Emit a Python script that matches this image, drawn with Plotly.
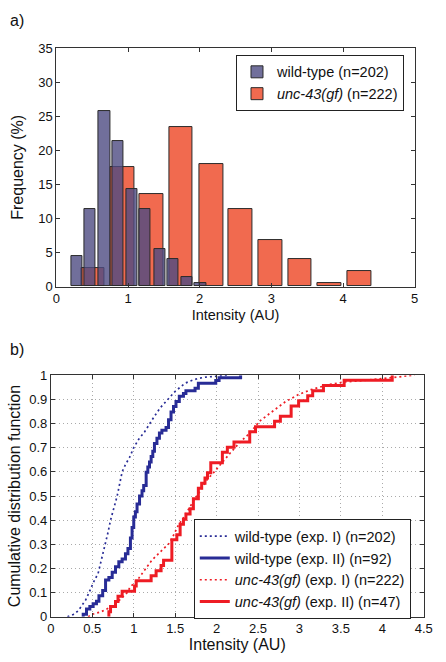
import plotly.graph_objects as go

# ---------------- data: histogram (panel a) ----------------
wt_centers = [0.28, 0.47, 0.67, 0.86, 1.05, 1.24, 1.44, 1.63, 1.82, 2.01]
wt_freq = [4.5, 11.4, 25.7, 21.3, 14.3, 11.4, 5.5, 4.0, 1.4, 0.5]
gf_centers = [0.51, 0.92, 1.33, 1.74, 2.16, 2.57, 2.99, 3.40, 3.81, 4.23]
gf_freq = [2.7, 17.6, 13.5, 23.4, 18.0, 11.3, 6.8, 4.1, 0.5, 2.3]

# ---------------- data: CDFs (panel b) ----------------
wt1_x = [0.20, 0.27, 0.33, 0.37, 0.42, 0.46, 0.51, 0.57, 0.60, 0.63, 0.66, 0.69,
         0.72, 0.76, 0.80, 0.83, 0.86, 0.90, 0.95, 1.00, 1.06, 1.13, 1.19, 1.25,
         1.32, 1.39, 1.45, 1.50, 1.56, 1.62, 1.70, 1.78, 1.87, 1.95, 2.05, 2.13]
wt1_y = [0.0, 0.01, 0.025, 0.045, 0.07, 0.10, 0.14, 0.18, 0.22, 0.26, 0.30, 0.35,
         0.40, 0.45, 0.50, 0.55, 0.60, 0.63, 0.66, 0.70, 0.735, 0.765, 0.80, 0.83,
         0.865, 0.893, 0.915, 0.933, 0.95, 0.967, 0.978, 0.987, 0.992, 0.995, 0.998, 1.0]

wt2_x = [0.39, 0.39, 0.43, 0.47, 0.51, 0.55, 0.58, 0.625, 0.66, 0.70, 0.74, 0.78,
         0.82, 0.86, 0.90, 0.93, 0.96, 0.98, 1.00, 1.02, 1.04, 1.07, 1.10, 1.12,
         1.15, 1.17, 1.19, 1.21, 1.23, 1.25, 1.28, 1.31, 1.34, 1.39, 1.42, 1.45,
         1.48, 1.51, 1.55, 1.60, 1.63, 1.74, 1.78, 1.99, 2.03, 2.29]
wt2_y = [0.0, 0.011, 0.033, 0.043, 0.054, 0.065, 0.087, 0.109, 0.152, 0.163, 0.185, 0.207,
         0.228, 0.239, 0.261, 0.283, 0.326, 0.370, 0.413, 0.435, 0.467, 0.500, 0.522, 0.543,
         0.598, 0.620, 0.641, 0.663, 0.685, 0.717, 0.739, 0.761, 0.772, 0.783, 0.815, 0.848,
         0.870, 0.891, 0.913, 0.924, 0.935, 0.946, 0.967, 0.978, 0.989, 1.0]

gf1_x = [0.45, 0.49, 0.60, 0.72, 0.80, 0.86, 0.92, 0.96, 1.01, 1.06, 1.10, 1.15,
         1.22, 1.31, 1.38, 1.43, 1.47, 1.54, 1.60, 1.66, 1.74, 1.82, 1.89, 1.96,
         2.02, 2.09, 2.17, 2.29, 2.40, 2.52, 2.68, 2.83, 2.99, 3.14, 3.34, 3.54,
         3.75, 3.93, 4.12, 4.25, 4.39]
gf1_y = [0.0, 0.01, 0.02, 0.04, 0.06, 0.08, 0.10, 0.125, 0.14, 0.16, 0.18, 0.205,
         0.235, 0.265, 0.29, 0.305, 0.33, 0.38, 0.41, 0.445, 0.49, 0.53, 0.57, 0.595,
         0.62, 0.65, 0.68, 0.725, 0.76, 0.81, 0.85, 0.89, 0.92, 0.94, 0.96, 0.972,
         0.977, 0.982, 0.99, 0.995, 1.0]

gf2_x = [0.70, 0.70, 0.72, 0.78, 0.81, 0.86, 1.01, 1.03, 1.21, 1.27, 1.33, 1.36,
         1.46, 1.52, 1.56, 1.60, 1.63, 1.68, 1.72, 1.78, 1.82, 1.86, 1.89, 1.93,
         2.07, 2.13, 2.21, 2.40, 2.47, 2.70, 2.77, 2.90, 2.99, 3.10, 3.16, 3.29,
         3.54, 4.12]
gf2_y = [0.0, 0.021, 0.043, 0.064, 0.085, 0.106, 0.128, 0.149, 0.170, 0.191, 0.213, 0.234,
         0.319, 0.340, 0.383, 0.404, 0.426, 0.447, 0.489, 0.532, 0.553, 0.574, 0.596, 0.638,
         0.681, 0.702, 0.723, 0.766, 0.787, 0.809, 0.830, 0.872, 0.894, 0.915, 0.936, 0.957,
         0.979, 1.0]

FONT = "Liberation Sans, Arial, sans-serif"
BLUE = "rgb(40,44,150)"
RED = "rgb(238,28,36)"

fig = go.Figure()

# panel a
fig.add_trace(go.Bar(x=gf_centers, y=gf_freq, width=0.33, name="<i>unc-43(gf)</i> (n=222)",
                     marker=dict(color="rgb(241,106,79)", line=dict(color="#2a2a2a", width=1)),
                     xaxis="x", yaxis="y", legend="legend", legendrank=2))
fig.add_trace(go.Bar(x=wt_centers, y=wt_freq, width=0.155, name="wild-type (n=202)",
                     marker=dict(color="rgba(78,75,130,0.8)", line=dict(color="#2a2a2a", width=1)),
                     xaxis="x", yaxis="y", legend="legend", legendrank=1))

# panel b
fig.add_trace(go.Scatter(x=wt1_x, y=wt1_y, mode="lines", name="wild-type (exp. I) (n=202)",
                         line=dict(color=BLUE, width=1.7, dash="2px,3px"),
                         xaxis="x2", yaxis="y2", legend="legend2"))
fig.add_trace(go.Scatter(x=wt2_x, y=wt2_y, mode="lines", name="wild-type (exp. II) (n=92)",
                         line=dict(color=BLUE, width=3, shape="hv"),
                         xaxis="x2", yaxis="y2", legend="legend2"))
fig.add_trace(go.Scatter(x=gf1_x, y=gf1_y, mode="lines", name="<i>unc-43(gf)</i> (exp. I) (n=222)",
                         line=dict(color=RED, width=1.7, dash="2px,3px"),
                         xaxis="x2", yaxis="y2", legend="legend2"))
fig.add_trace(go.Scatter(x=gf2_x, y=gf2_y, mode="lines", name="<i>unc-43(gf)</i> (exp. II) (n=47)",
                         line=dict(color=RED, width=3, shape="hv"),
                         xaxis="x2", yaxis="y2", legend="legend2"))

W, H = 446, 662
axis_common = dict(showline=True, linecolor="#333", linewidth=1, mirror="ticks",
                   ticks="inside", ticklen=4, tickcolor="#333", zeroline=False,
                   tickfont=dict(family=FONT, size=13, color="#111"))

fig.update_layout(
    width=W, height=H, margin=dict(l=0, r=0, t=0, b=0),
    paper_bgcolor="white", plot_bgcolor="white",
    barmode="overlay", bargap=0,
    font=dict(family=FONT, color="#111"),
    xaxis=dict(domain=[54 / W, 423 / W], range=[0, 5], dtick=1, anchor="y",
               showgrid=False,
               title=dict(text="Intensity (AU)", font=dict(size=14.5), standoff=4),
               **axis_common),
    yaxis=dict(domain=[(H - 286) / H, (H - 42) / H], range=[0, 35], dtick=5, anchor="x",
               showgrid=False,
               title=dict(text="Frequency (%)", font=dict(size=16), standoff=10),
               **axis_common),
    xaxis2=dict(domain=[48.3 / W, 432.3 / W], range=[0, 4.5], dtick=0.5, anchor="y2",
                showgrid=True, gridcolor="#aaa", griddash="1px,3px", gridwidth=1,
                title=dict(text="Intensity (AU)", font=dict(size=16), standoff=2),
                **axis_common),
    yaxis2=dict(domain=[(H - 624) / H, (H - 376.7) / H], range=[0, 1], dtick=0.1, anchor="x2",
                showgrid=True, gridcolor="#aaa", griddash="1px,3px", gridwidth=1,
                title=dict(text="Cumulative distribution function", font=dict(size=16), standoff=4),
                **axis_common),
    legend=dict(x=412 / W, xanchor="right", y=(H - 49) / H, yanchor="top",
                bgcolor="white", bordercolor="#222", borderwidth=1,
                font=dict(family=FONT, size=14.5, color="#111"),
                tracegroupgap=0),
    legend2=dict(x=419 / W, xanchor="right", y=(H - 524) / H, yanchor="top",
                 bgcolor="white", bordercolor="#222", borderwidth=1,
                 font=dict(family=FONT, size=14.5, color="#111"),
                 tracegroupgap=0),
    annotations=[
        dict(text="a)", x=4 / W, y=(H - 14) / H, xref="paper", yref="paper",
             xanchor="left", yanchor="middle", showarrow=False,
             font=dict(family=FONT, size=16, color="#111")),
        dict(text="b)", x=4 / W, y=(H - 350) / H, xref="paper", yref="paper",
             xanchor="left", yanchor="middle", showarrow=False,
             font=dict(family=FONT, size=16, color="#111")),
    ],
)

fig.write_html("out.html", config={"displayModeBar": False},
               post_script="document.body.style.margin='0';document.body.style.padding='0';")
